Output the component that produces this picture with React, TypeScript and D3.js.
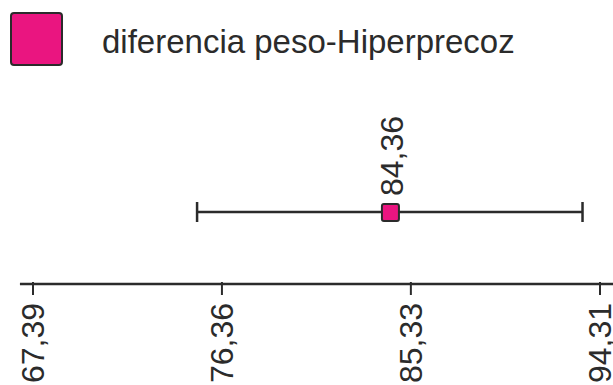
import React, { useEffect, useRef } from 'react';
import * as d3 from 'd3';

// data
const seriesName = 'diferencia peso-Hiperprecoz';
const pointValues = [84.36];
const lowerValues = [75.18];
const upperValues = [93.48];
const tickValues = [67.39, 76.36, 85.33, 94.31];
const axisExtent = [66.77, 95.0];

const width = 613;
const height = 385;
const pink = '#EA1580';
const ink = '#2b2b2b';
const font = '"Liberation Sans", Arial, sans-serif';

const fmt = (v: number) => v.toFixed(2).replace('.', ',');

const App = () => {
  const svgRef = useRef<SVGSVGElement>(null);

  useEffect(() => {
    const svg = d3.select(svgRef.current);
    svg.selectAll('*').remove();

    const x = d3.scaleLinear().domain([tickValues[0], tickValues[tickValues.length - 1]]).range([33, 600]);
    const axisY = 284;
    const barY = 212;

    // legend
    svg.append('rect')
      .attr('x', 11).attr('y', 13)
      .attr('width', 51).attr('height', 52)
      .attr('rx', 3)
      .attr('fill', pink)
      .attr('stroke', ink)
      .attr('stroke-width', 2);

    svg.append('text')
      .attr('x', 102).attr('y', 53)
      .attr('font-family', font)
      .attr('font-size', 33)
      .attr('fill', ink)
      .text(seriesName);

    // axis
    svg.append('line')
      .attr('x1', x(axisExtent[0])).attr('x2', x(axisExtent[1]))
      .attr('y1', axisY).attr('y2', axisY)
      .attr('stroke', ink).attr('stroke-width', 2.5);

    const ticks = svg.append('g').selectAll('g')
      .data(tickValues)
      .join('g')
      .attr('transform', d => `translate(${x(d)},${axisY})`);

    ticks.append('line')
      .attr('y1', -2).attr('y2', 11)
      .attr('stroke', ink).attr('stroke-width', 2);

    ticks.append('text')
      .attr('transform', 'translate(0,19) rotate(-90)')
      .attr('text-anchor', 'end')
      .attr('dy', '0.35em')
      .attr('font-family', font)
      .attr('font-size', 32)
      .attr('fill', ink)
      .text(d => fmt(d));

    // error bars + points
    const rows = pointValues.map((v, i) => ({ v, lo: lowerValues[i], hi: upperValues[i] }));
    const g = svg.append('g').selectAll('g').data(rows).join('g');

    g.append('line')
      .attr('x1', d => x(d.lo)).attr('x2', d => x(d.hi))
      .attr('y1', barY).attr('y2', barY)
      .attr('stroke', ink).attr('stroke-width', 2.5);

    g.selectAll('line.cap')
      .data(d => [d.lo, d.hi])
      .join('line')
      .attr('class', 'cap')
      .attr('x1', d => x(d)).attr('x2', d => x(d))
      .attr('y1', barY - 10).attr('y2', barY + 10)
      .attr('stroke', ink).attr('stroke-width', 2.5);

    g.append('rect')
      .attr('x', d => x(d.v) - 8.5).attr('y', barY - 8)
      .attr('width', 17).attr('height', 17)
      .attr('rx', 2)
      .attr('fill', pink)
      .attr('stroke', ink)
      .attr('stroke-width', 2);

    g.append('text')
      .attr('transform', d => `translate(${x(d.v) + 1},${barY - 16}) rotate(-90)`)
      .attr('dy', '0.35em')
      .attr('font-family', font)
      .attr('font-size', 32)
      .attr('fill', ink)
      .text(d => fmt(d.v));
  }, []);

  return (
    <svg ref={svgRef} width={width} height={height}
      style={{ position: 'absolute', left: 0, top: 0, background: '#fff' }} />
  );
};

export default App;
